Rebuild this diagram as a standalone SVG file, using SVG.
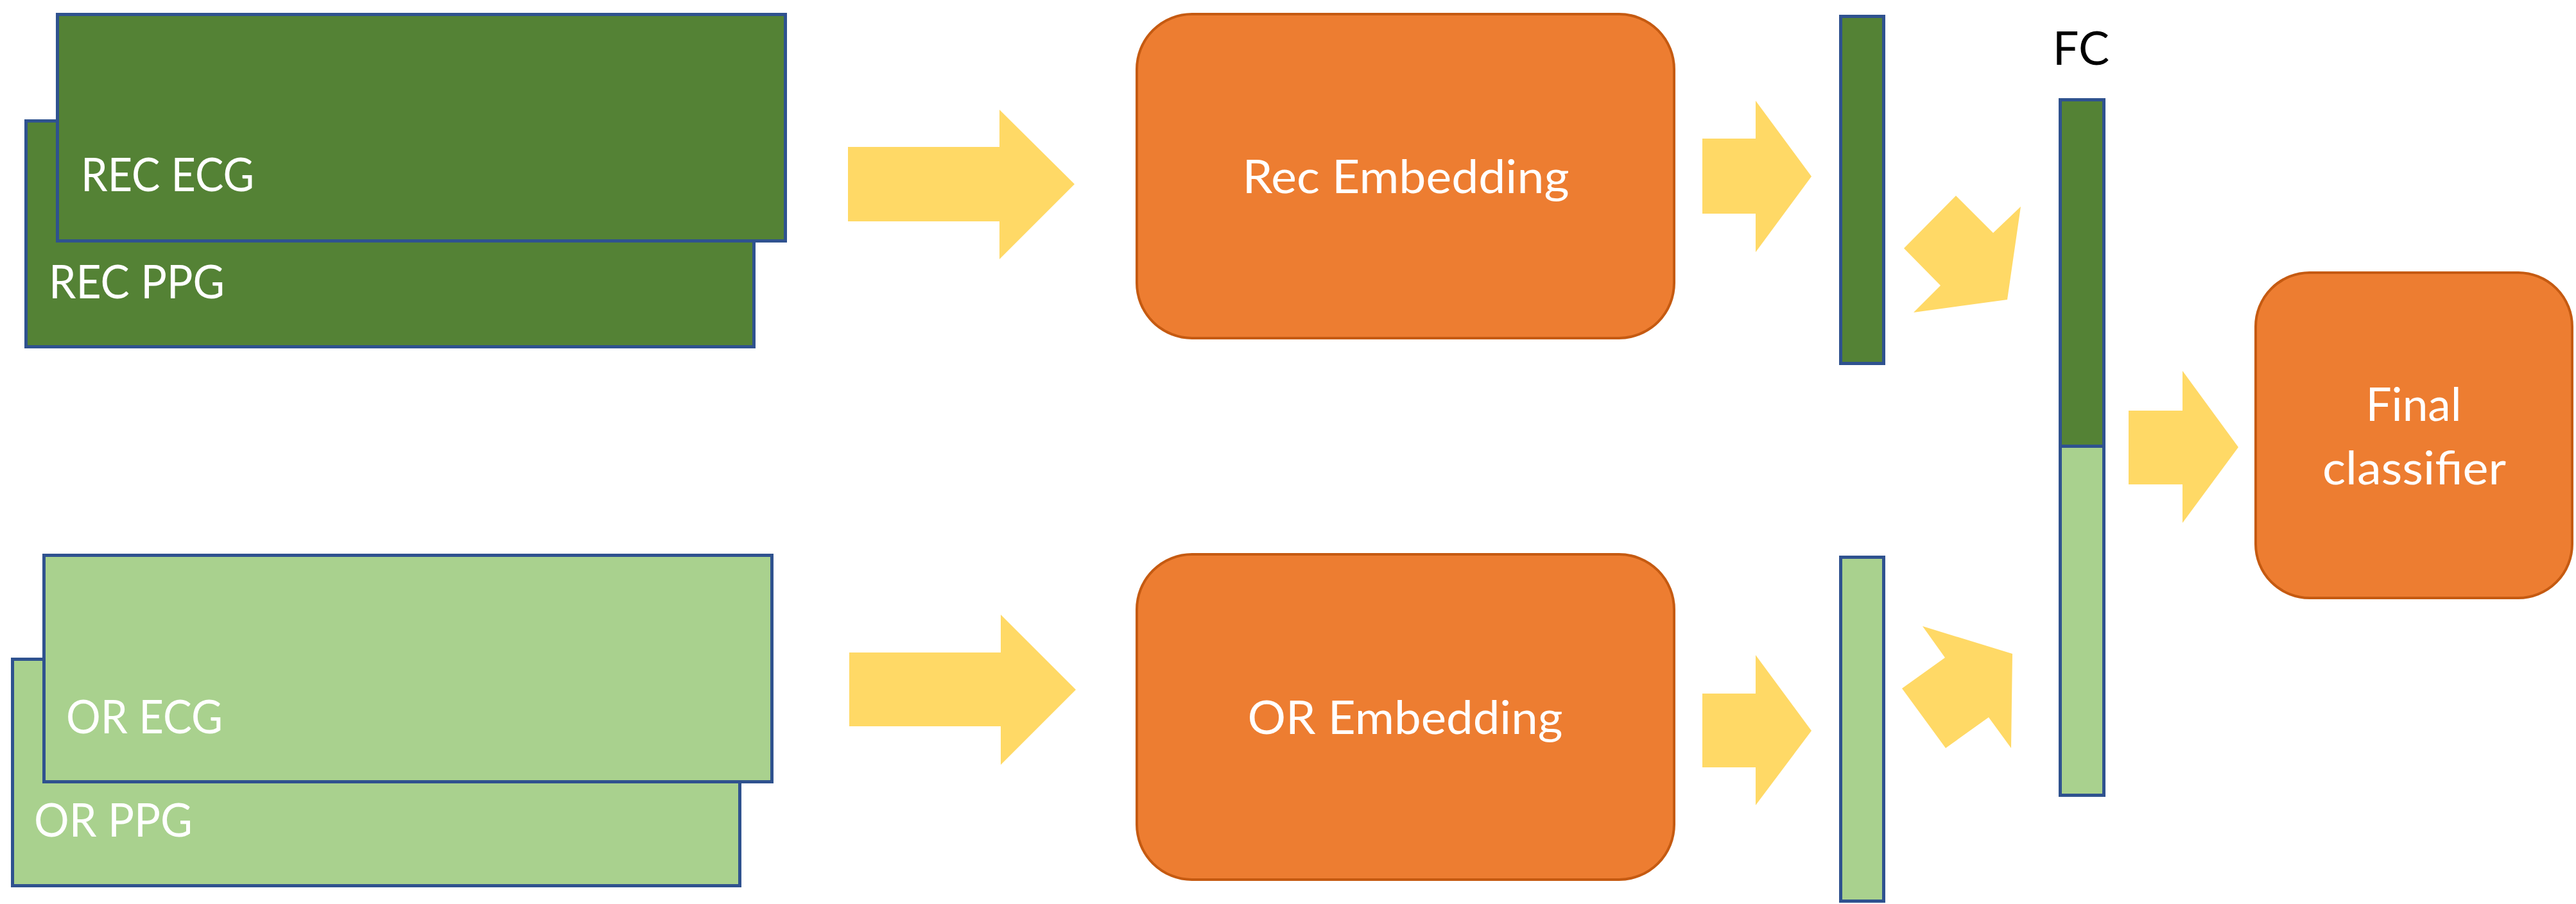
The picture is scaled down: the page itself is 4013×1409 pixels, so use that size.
<svg xmlns="http://www.w3.org/2000/svg" width="4013" height="1409" viewBox="0 0 4013 1409">
<style>
.dk{fill:#548235;stroke:#2F528F;stroke-width:5}
.lt{fill:#A9D18E;stroke:#2F528F;stroke-width:5}
.or{fill:#ED7D31;stroke:#C55A11;stroke-width:4}
.arr{fill:#FFD966;stroke:none}
.t{font-family:Lato,"Open Sans","Liberation Sans",sans-serif;font-size:72px;fill:#FFFFFF}
.tc{text-anchor:middle}
.blk{fill:#000000}
</style>
<rect width="4013" height="1409" fill="#FFFFFF"/>
<g id="rec-ppg"><rect class="dk" x="40.5" y="188.5" width="1134" height="352"/><text class="t" x="76" y="465" textLength="274" lengthAdjust="spacingAndGlyphs">REC PPG</text></g>
<g id="rec-ecg"><rect class="dk" x="89.5" y="22.5" width="1134" height="353"/><text class="t" x="126" y="298" textLength="270" lengthAdjust="spacingAndGlyphs">REC ECG</text></g>
<g id="or-ppg"><rect class="lt" x="19.5" y="1027.5" width="1133" height="353"/><text class="t" x="53" y="1304" textLength="247" lengthAdjust="spacingAndGlyphs">OR PPG</text></g>
<g id="or-ecg"><rect class="lt" x="68.5" y="865.5" width="1134" height="353"/><text class="t" x="103" y="1143" textLength="244" lengthAdjust="spacingAndGlyphs">OR ECG</text></g>
<g id="rec-embedding"><rect class="or" x="1771" y="22" width="837" height="505" rx="86" ry="86"/><text class="t tc" x="2190" y="301" textLength="509" lengthAdjust="spacingAndGlyphs">Rec Embedding</text></g>
<g id="or-embedding"><rect class="or" x="1771" y="864" width="837" height="507" rx="86" ry="86"/><text class="t tc" x="2189" y="1144" textLength="491" lengthAdjust="spacingAndGlyphs">OR Embedding</text></g>
<g id="rec-vector"><rect class="dk" x="2867.5" y="25.5" width="67" height="541"/></g>
<g id="or-vector"><rect class="lt" x="2867.5" y="868.5" width="67" height="536"/></g>
<g id="fc"><rect class="dk" x="3209.5" y="155.5" width="68" height="540"/><rect class="lt" x="3209.5" y="695.5" width="68" height="544"/><text class="t tc blk" x="3242" y="101">FC</text></g>
<g id="final-classifier"><rect class="or" x="3514" y="425" width="493" height="507" rx="84" ry="84"/><text class="t tc" x="3760" y="656" textLength="149" lengthAdjust="spacingAndGlyphs">Final</text><text class="t tc" x="3761" y="755" textLength="286" lengthAdjust="spacingAndGlyphs">classifier</text></g>
<g id="connectors">
<polygon class="arr" points="1321,229 1557,229 1557,171 1674,287 1557,404 1557,345 1321,345"/>
<polygon class="arr" points="1323,1017 1559,1017 1559,958 1676,1075 1559,1192 1559,1132 1323,1132"/>
<polygon class="arr" points="2652,216 2735,216 2735,157 2822,275 2735,393 2735,333 2652,333"/>
<polygon class="arr" points="2652,1081 2735,1081 2735,1021 2822,1139 2735,1255 2735,1196 2652,1196"/>
<polygon class="arr" points="2966,387 3047,305 3105,363 3148,322 3127,467 2981,487 3023,445"/>
<polygon class="arr" points="2963,1073 3030,1025 2995,976 3135,1019 3133,1166 3098,1118 3031,1166"/>
<polygon class="arr" points="3316,640 3400,640 3400,578 3487,697 3400,815 3400,755 3316,755"/>
</g>
</svg>
